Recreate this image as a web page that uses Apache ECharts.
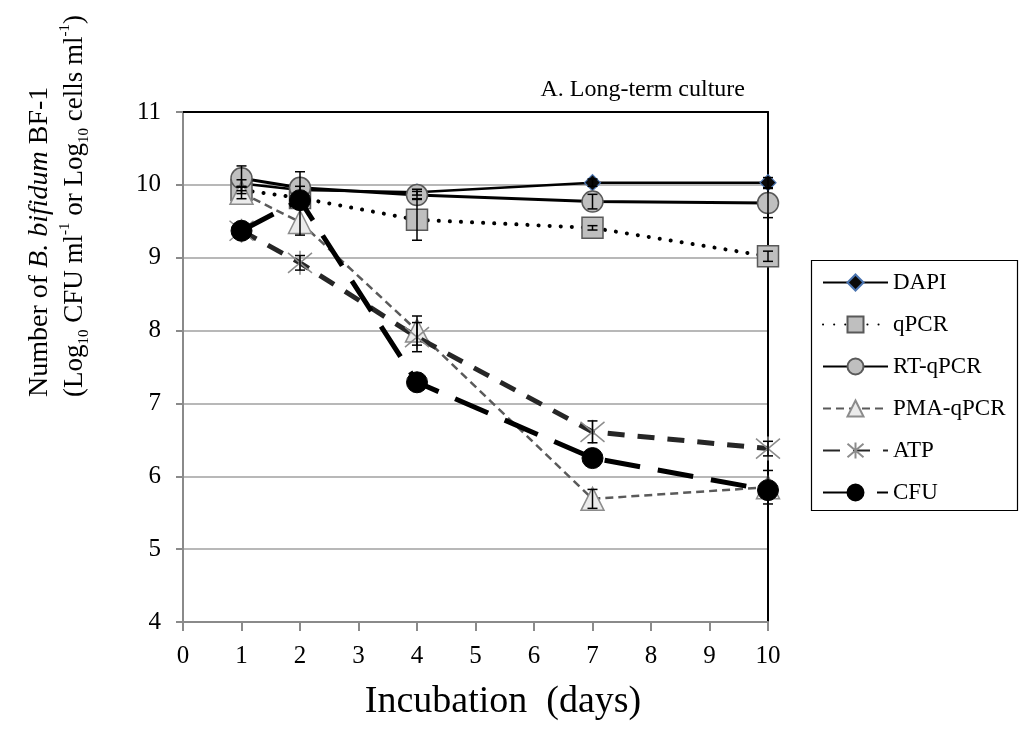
<!DOCTYPE html>
<html>
<head>
<meta charset="utf-8">
<script src="https://cdn.jsdelivr.net/npm/echarts@6/dist/echarts.min.js"></script>
<style>
html,body{margin:0;padding:0;background:#fff;}
#chart{width:1020px;height:729px;}
</style>
</head>
<body>
<div id="chart"></div>
<script>
// ---- data ----
const days = [1, 2, 4, 7, 10];
const xTicks = [0, 1, 2, 3, 4, 5, 6, 7, 8, 9, 10];
const yTicks = [4, 5, 6, 7, 8, 9, 10, 11];
const seriesNames = ['DAPI', 'qPCR', 'RT-qPCR', 'PMA-qPCR', 'ATP', 'CFU'];
const dapi    = [10.02, 9.93, 9.90, 10.03, 10.03];
const qpcr    = [9.93, 9.82, 9.52, 9.41, 9.02];
const rtqpcr  = [10.09, 9.96, 9.86, 9.77, 9.75];
const pmaqpcr = [9.89, 9.49, 8.00, 5.69, 5.85];
const atp     = [9.37, 8.93, 7.91, 6.61, 6.38];
const cfu     = [9.37, 9.79, 7.29, 6.25, 5.81];
const dapiErr = [0.05, 0.05, 0.04, 0.05, 0.07];
const qpcrErr = [0.05, 0.05, 0.28, 0.03, 0.07];
const rtErr   = [0.17, 0.22, 0.05, 0.10, 0.20];
const pmaErr  = [0.08, 0.18, 0.20, 0.13, 0.23];
const atpErr  = [0.05, 0.10, 0.20, 0.15, 0.10];

const FONT = 'Liberation Serif';
const chart = echarts.init(document.getElementById('chart'), null, {renderer: 'canvas'});

function pairs(vals) { return days.map((d, i) => [d, vals[i]]); }
function errData(vals, errs) { return days.map((d, i) => [d, vals[i] - errs[i], vals[i] + errs[i]]); }

const allErr = [].concat(
  errData(dapi, dapiErr), errData(qpcr, qpcrErr), errData(rtqpcr, rtErr),
  errData(pmaqpcr, pmaErr), errData(atp, atpErr)
);

const styles = [
  {symbol: 'diamond', size: 16, line: {color: '#000', width: 2.5, type: 'solid'},
   item: {color: '#0a0a0a', borderColor: '#4a74b0', borderWidth: 1.2}},
  {symbol: 'rect', size: 21, line: {color: '#000', width: 4, type: [0.1, 11], cap: 'round'},
   item: {color: '#bfbfbf', borderColor: '#595959', borderWidth: 1.5}},
  {symbol: 'circle', size: 21, line: {color: '#000', width: 3, type: 'solid'},
   item: {color: '#bfbfbf', borderColor: '#595959', borderWidth: 1.5}},
  {symbol: 'triangle', size: 23, line: {color: '#5a5a5a', width: 2.5, type: [8, 5]},
   item: {color: '#ebebeb', borderColor: '#8c8c8c', borderWidth: 1.5}},
  {symbol: 'path://M0,0L10,10M10,0L0,10M5,-1L5,11', size: 24, line: {color: '#262626', width: 5, type: [17, 13]},
   item: {color: 'transparent', borderColor: '#8c8c8c', borderWidth: 1.5}},
  {symbol: 'circle', size: 21, line: {color: '#000', width: 5, type: [36, 18]},
   item: {color: '#000', borderColor: '#000', borderWidth: 1}}
];
const values = [dapi, qpcr, rtqpcr, pmaqpcr, atp, cfu];

const lineSeries = seriesNames.map((name, i) => ({
  name: name,
  type: 'line',
  xAxisIndex: 0, yAxisIndex: 0,
  data: pairs(values[i]),
  symbol: styles[i].symbol,
  symbolSize: styles[i].size,
  showAllSymbol: true,
  lineStyle: styles[i].line,
  itemStyle: styles[i].item,
  z: 3 + i,
  emphasis: {disabled: true}
}));

const errSeries = {
  type: 'custom',
  xAxisIndex: 0, yAxisIndex: 0,
  data: allErr,
  z: 20,
  silent: true,
  renderItem: function (params, api) {
    const x = api.value(0);
    const top = api.coord([x, api.value(2)]);
    const bot = api.coord([x, api.value(1)]);
    const st = {stroke: '#000', lineWidth: 1.5};
    const w = 5;
    return {
      type: 'group',
      children: [
        {type: 'line', shape: {x1: top[0], y1: top[1], x2: bot[0], y2: bot[1]}, style: st},
        {type: 'line', shape: {x1: top[0] - w, y1: top[1], x2: top[0] + w, y2: top[1]}, style: st},
        {type: 'line', shape: {x1: bot[0] - w, y1: bot[1], x2: bot[0] + w, y2: bot[1]}, style: st}
      ]
    };
  }
};

const option = {
  animation: false,
  backgroundColor: '#fff',
  grid: {left: 183, right: 252, top: 112, bottom: 107, containLabel: false},
  title: {
    text: 'A. Long-term culture',
    left: 740, top: 73, textAlign: 'right',
    textStyle: {fontFamily: FONT, fontSize: 24, fontWeight: 'normal', color: '#000'}
  },
  legend: {
    orient: 'vertical',
    left: 822, top: 271,
    padding: 0,
    itemWidth: 65, itemHeight: 20, itemGap: 19,
    data: seriesNames,
    textStyle: {fontFamily: FONT, fontSize: 23, color: '#000', lineHeight: 22, padding: [0, 0, 0, 0]},
    selectedMode: false
  },
  xAxis: [{
    type: 'value', min: xTicks[0], max: xTicks[xTicks.length - 1], interval: 1,
    axisLine: {show: true, onZero: false, lineStyle: {color: '#8a8a8a', width: 2}},
    axisTick: {show: true, length: 9, lineStyle: {color: '#8a8a8a', width: 2}},
    axisLabel: {fontFamily: FONT, fontSize: 25, color: '#000', margin: 22},
    splitLine: {show: false}
  }, {
    type: 'value', position: 'top', min: 0, max: 10,
    axisLine: {show: true, onZero: false, lineStyle: {color: '#000', width: 2}},
    axisTick: {show: false}, axisLabel: {show: false}, splitLine: {show: false}
  }],
  yAxis: [{
    type: 'value', min: yTicks[0], max: yTicks[yTicks.length - 1], interval: 1,
    axisLine: {show: true, onZero: false, lineStyle: {color: '#8a8a8a', width: 2}},
    axisTick: {show: true, length: 7, lineStyle: {color: '#8a8a8a', width: 2}},
    axisLabel: {fontFamily: FONT, fontSize: 25, color: '#000', margin: 22},
    splitLine: {show: true, lineStyle: {color: '#a0a0a0', width: 1.5}}
  }, {
    type: 'value', position: 'right', min: 4, max: 11,
    axisLine: {show: true, onZero: false, lineStyle: {color: '#000', width: 2}},
    axisTick: {show: false}, axisLabel: {show: false}, splitLine: {show: false}
  }],
  graphic: [
    {
      type: 'rect', left: 809, top: 258, z: 0,
      shape: {width: 206, height: 250},
      style: {fill: 'none', stroke: '#000', lineWidth: 1.2}
    },
    {
      type: 'text', x: 503, y: 702,
      style: {
        text: 'Incubation  (days)', align: 'center', verticalAlign: 'middle',
        font: '38px "Liberation Serif"', fill: '#000'
      }
    },
    {
      type: 'text', x: 40, y: 397, rotation: Math.PI / 2,
      style: {
        text: '{n|Number of }{i|B. bifidum}{n| BF-1}',
        align: 'left', verticalAlign: 'middle',
        rich: {
          n: {fontFamily: FONT, fontSize: 28, lineHeight: 34, verticalAlign: 'middle', fill: '#000'},
          i: {fontFamily: FONT, fontSize: 28, fontStyle: 'italic', lineHeight: 34, verticalAlign: 'middle', fill: '#000'}
        }
      }
    },
    {
      type: 'text', x: 75, y: 397, rotation: Math.PI / 2,
      style: {
        text: '{n|(Log}{sub|10}{n| CFU ml}{sup|-1}{n| or Log}{sub|10}{n| cells ml}{sup|-1}{n|)}',
        align: 'left', verticalAlign: 'middle',
        rich: {
          n: {fontFamily: FONT, fontSize: 27, lineHeight: 34, verticalAlign: 'middle', fill: '#000'},
          sub: {fontFamily: FONT, fontSize: 15, lineHeight: 15, verticalAlign: 'bottom', fill: '#000'},
          sup: {fontFamily: FONT, fontSize: 15, lineHeight: 15, verticalAlign: 'top', fill: '#000'}
        }
      }
    }
  ],
  series: lineSeries.concat([errSeries])
};
chart.setOption(option);
</script>
</body>
</html>
